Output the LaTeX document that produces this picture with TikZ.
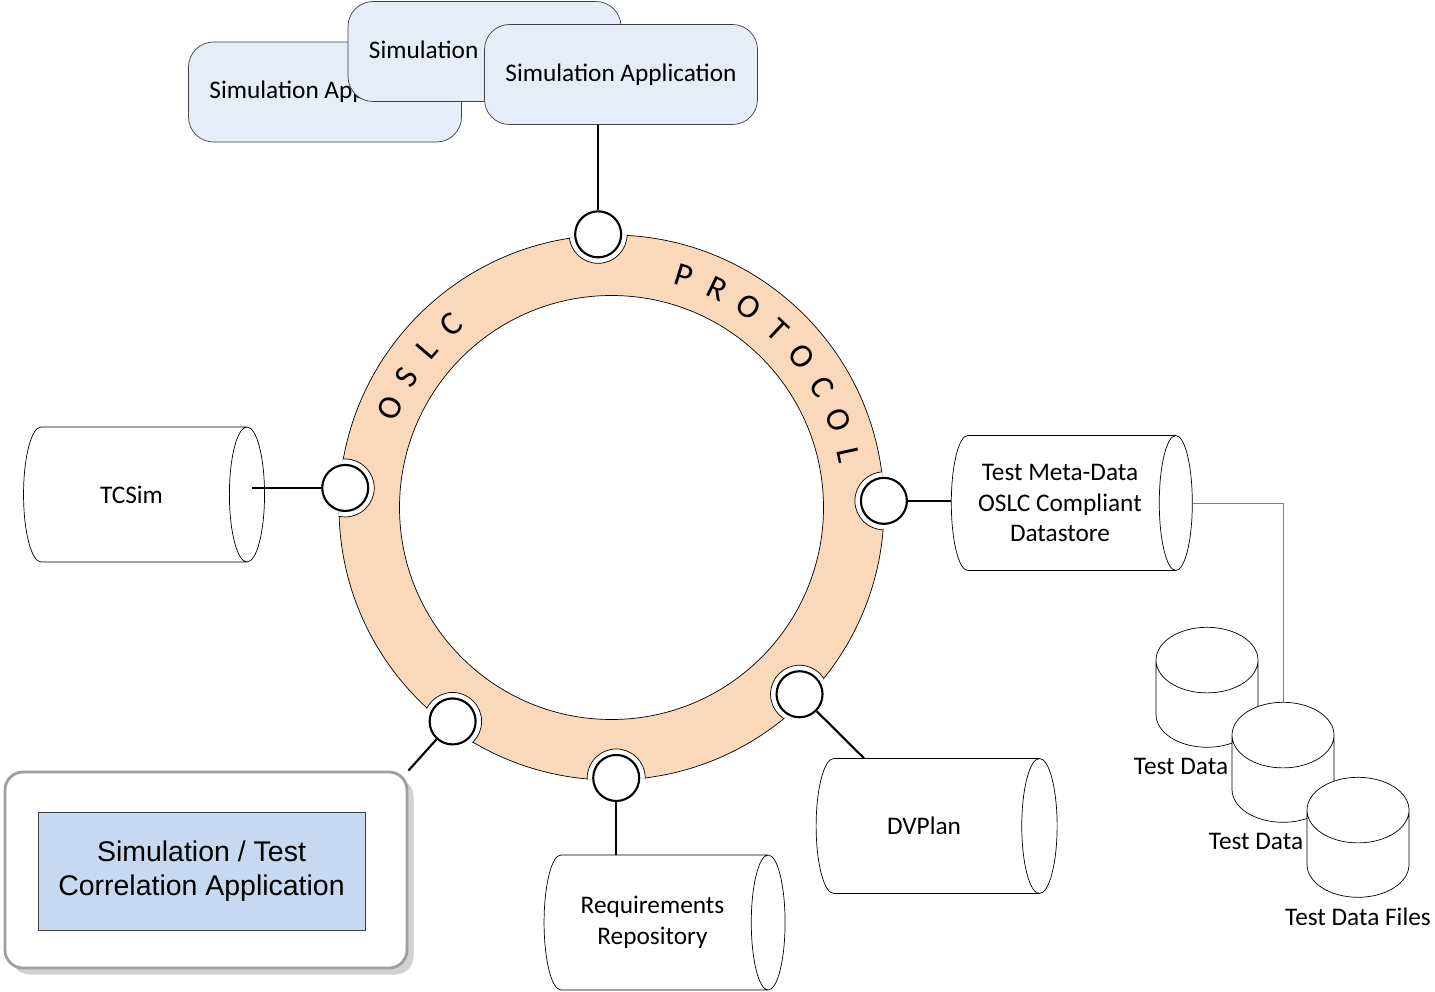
\documentclass[tikz,border=0pt]{standalone}
\usepackage{fontspec}
\setmainfont{Carlito}
\newfontfamily\arialfont{Liberation Sans}
\usetikzlibrary{shapes.geometric,positioning,calc,shadows}
\definecolor{ringpeach}{RGB}{250,216,186}
\definecolor{appblue}{RGB}{230,236,248}
\definecolor{corrblue}{RGB}{198,217,241}
\definecolor{edgegray}{RGB}{64,64,64}

\begin{document}
\begin{tikzpicture}[
    app/.style={rectangle, rounded corners=0.5cm, draw=edgegray, fill=appblue, minimum width=5.46cm, minimum height=2cm, font=\fontsize{14.4}{17}\selectfont},
    store/.style={cylinder, draw, fill=white, thin, minimum width=2.7cm, minimum height=4.82cm, align=center, font=\fontsize{14.4}{17.4}\selectfont},
    datacyl/.style={cylinder, shape border rotate=90, draw, fill=white, thin, minimum width=2.04cm, minimum height=2.4cm, aspect=5.6},
    port/.style={circle, draw, line width=1.2pt, fill=white, minimum size=0.92cm, inner sep=0pt},
    link/.style={line width=1.2pt},
    dlabel/.style={font=\fontsize{14.4}{17}\selectfont, inner sep=1pt},
    ringtext/.style={font=\fontsize{19}{19}\selectfont, inner sep=0pt}]
    \useasboundingbox (0,0) rectangle (28.7,-19.84);

    % the protocol ring
    \coordinate (ring) at (12.23,-10.15);
    \draw[fill=ringpeach, even odd rule, thin] (ring) circle (5.45) (ring) circle (4.24);
    \foreach \ch [count=\i, evaluate=\i as \a using 155.8-8.2*(\i-1)] in {O,S,L,C}
        \node[ringtext, rotate=\a-90] (oslc\i) at ($(ring)+(\a:4.86)$) {\ch};
    \foreach \ch [count=\i, evaluate=\i as \a using 72.7-8.6*(\i-1)] in {P,R,O,T,O,C,O,L}
        \node[ringtext, rotate=\a-90] (proto\i) at ($(ring)+(\a:4.86)$) {\ch};

    % ports on the ring
    \foreach \n/\a/\r in {ptop/92.8/5.47, pleft/175.8/5.34, pright/1.4/5.45, pbl/233.4/5.33, pbot/271/5.41, pbr/315.2/5.3} {
        \begin{scope}
            \clip (ring) circle (5.46);
            \draw[fill=white, thin] ($(ring)+(\a:\r)$) circle (0.58);
        \end{scope}
        \node[port] (\n) at ($(ring)+(\a:\r)$) {};
    }

    % applications on top
    \node[app] (appA) at (6.5,-1.84) {Simulation Application};
    \node[app] (appB) at (9.69,-1.03) {Simulation Application};
    \node[app] (appC) at (12.42,-1.49) {Simulation Application};

    % stores
    \node[store, aspect=1.2] (tcsim) at (2.63,-9.89) {TCSim};
    \node[store, aspect=0.37] (meta) at (21.2,-10.06) {Test Meta-Data\\OSLC Compliant\\Datastore};
    \node[store, aspect=1.2] (dvplan) at (18.48,-16.52) {DVPlan};
    \node[store, aspect=0.53] (req) at (13.05,-18.45) {Requirements\\Repository};

    % data files
    \node[datacyl] (td1) at (24.14,-14.23) {};
    \node[dlabel] (td1lab) at (23.62,-15.32) {Test Data};
    \node[datacyl] (td2) at (25.66,-15.73) {};
    \node[dlabel] (td2lab) at (25.12,-16.82) {Test Data};
    \node[datacyl] (td3) at (27.16,-17.23) {};
    \node[dlabel] (td3lab) at (27.16,-18.34) {Test Data Files};

    % correlation application
    \node[draw=gray!75, line width=1.6pt, rounded corners=0.36cm, fill=white, minimum width=8.04cm, minimum height=3.92cm,
        drop shadow={shadow xshift=0.13cm, shadow yshift=-0.13cm, fill=black!18, opacity=1}] (corr) at (4.12,-17.4) {};
    \node[draw=edgegray, fill=corrblue, minimum width=6.54cm, minimum height=2.36cm, align=center,
        font=\arialfont\fontsize{16.2}{19.3}\selectfont] (corrapp) at (4.03,-17.42) {Simulation / Test\\Correlation Application};

    % connectors
    \draw[link] (ptop) -- (ptop |- appC.south);
    \draw[link] (pleft) -- ($(pleft -| tcsim.top)+(-0.26,0)$);
    \draw[link] (pright) -- (pright -| meta.west);
    \draw[link] (pbr) -- (intersection of ring--pbr and dvplan.north west--dvplan.north east);
    \draw[link] (pbot) -- (pbot |- req.north);
    \draw[link] (pbl) -- (corr.north east);
    \draw[gray, thin] (meta.top) -| (td2.top);
\end{tikzpicture}
\end{document}
